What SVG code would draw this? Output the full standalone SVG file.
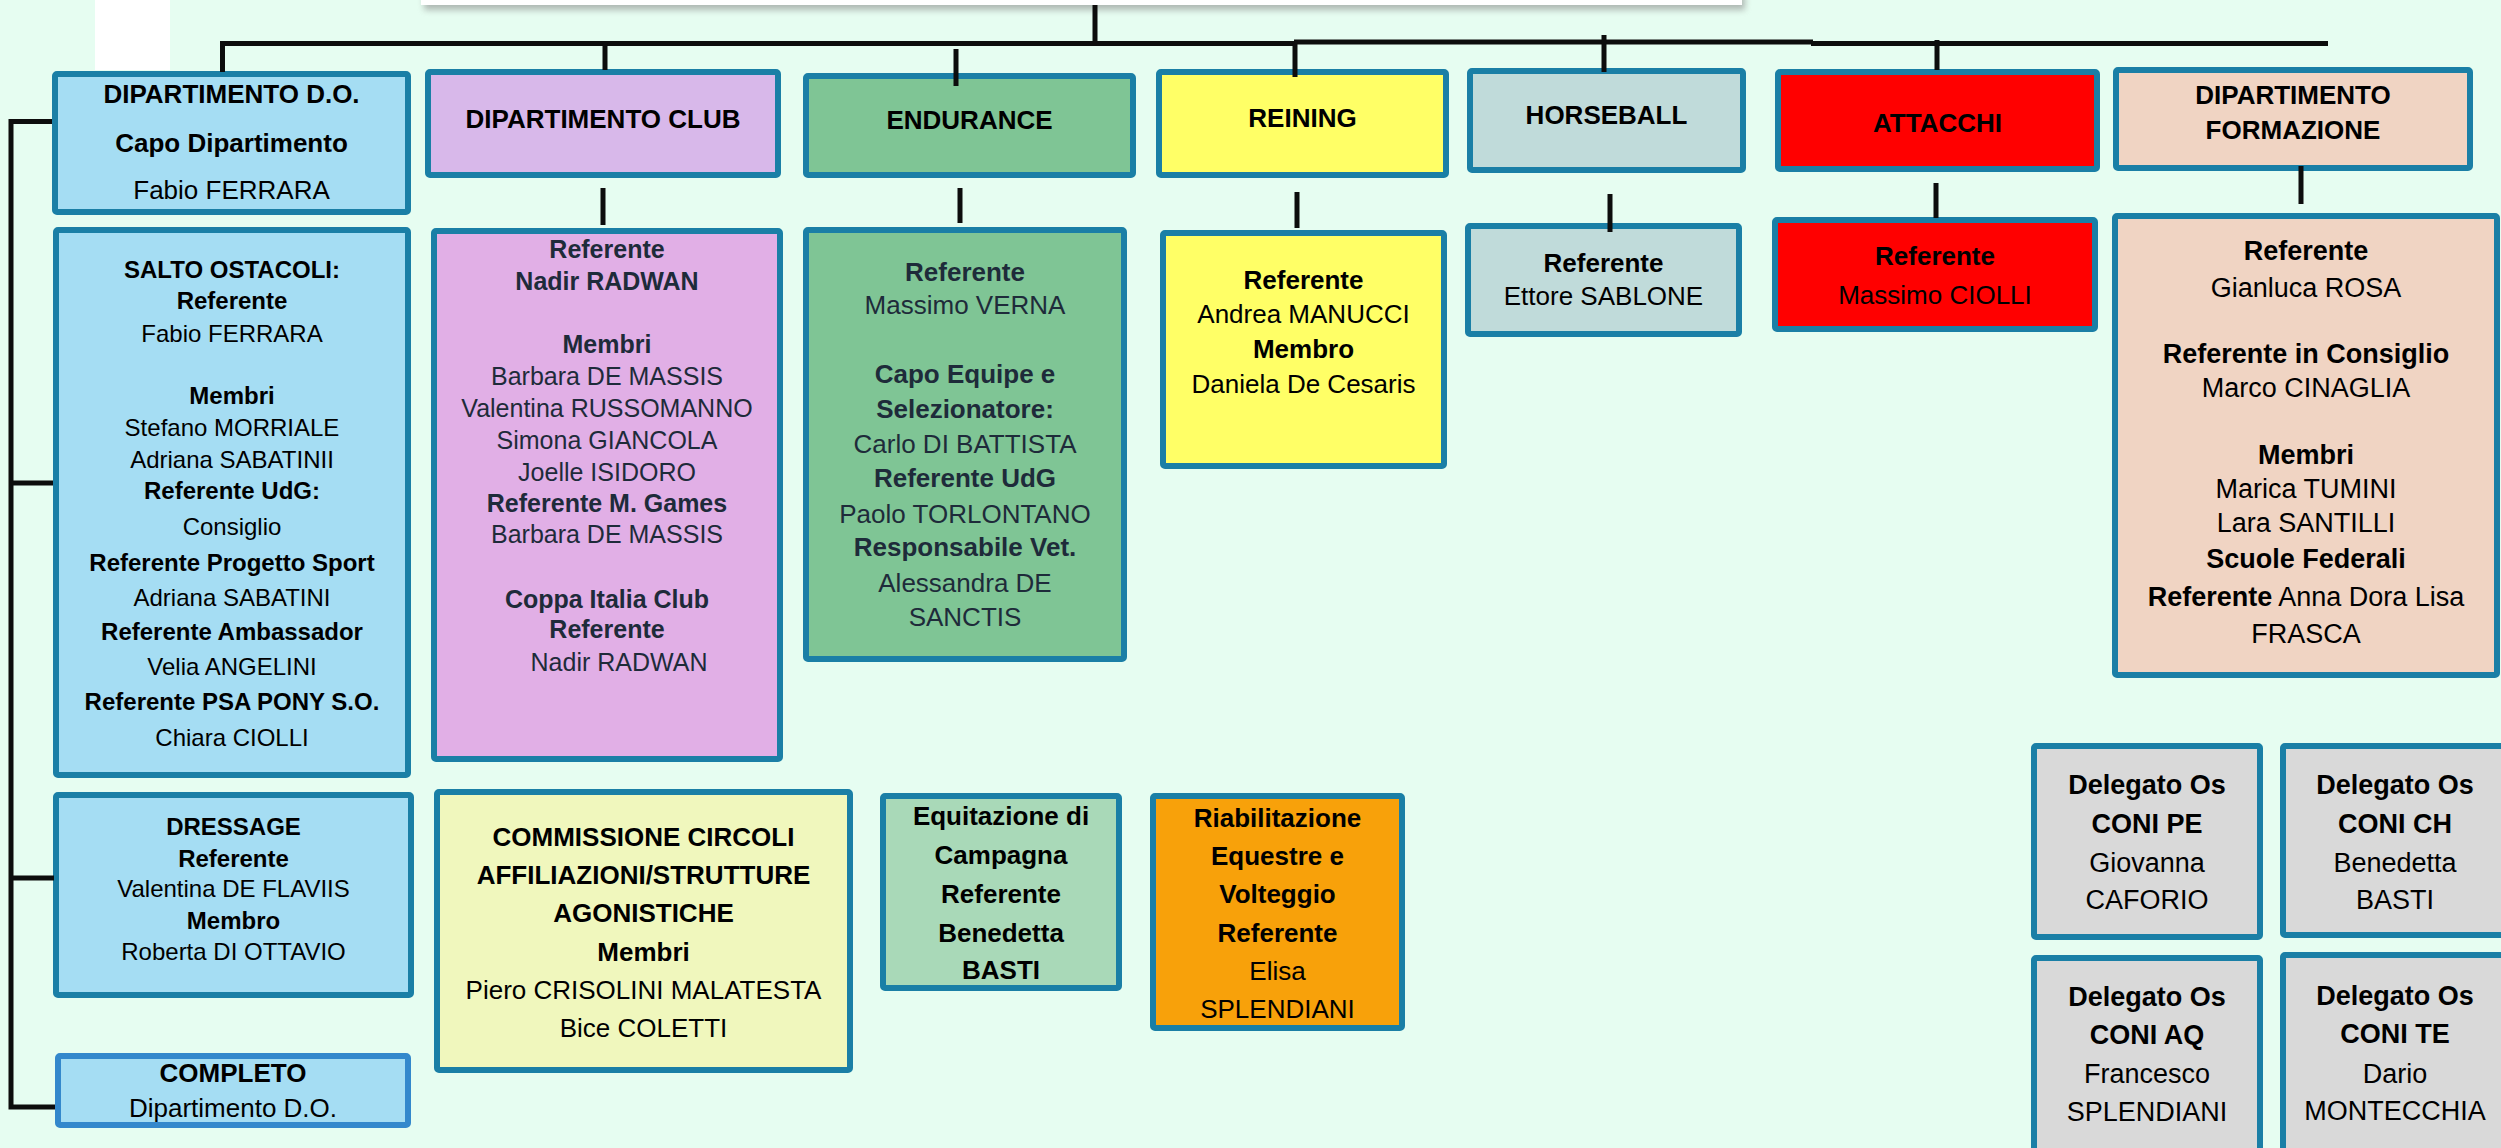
<svg xmlns="http://www.w3.org/2000/svg" width="2501" height="1148" viewBox="0 0 2501 1148">
<defs>
<filter id="sh" x="-5%" y="-100%" width="110%" height="400%"><feGaussianBlur stdDeviation="3"/></filter>
</defs>
<style>
.box{stroke:#1a7fa6;stroke-width:6}
.ln{stroke:#0d0d0d;stroke-width:5;fill:none;stroke-linecap:butt}
text{font-family:"Liberation Sans",Arial,sans-serif;text-anchor:middle;fill:#000}
.b{font-weight:bold}
.dk{fill:#1e2b3a}
.f24{font-size:24px}.f25{font-size:25px}.f26{font-size:26px}.f27{font-size:27px}
</style>
<rect x="0" y="0" width="2501" height="1148" fill="#e6fdf1"/>
<rect x="95" y="0" width="75" height="70" fill="#ffffff"/>
<rect x="424" y="-6" width="1321" height="16" fill="#8a8a8a" opacity="0.6" filter="url(#sh)"/>
<rect x="421" y="-10" width="1321" height="15" fill="#ffffff"/>

<g id="dip-do">
<rect class="box" x="55" y="74" width="353" height="138" rx="2" fill="#a5ddf3"/>
<text class="b f26" x="231.5" y="103">DIPARTIMENTO D.O.</text>
<text class="b f26" x="231.5" y="152">Capo Dipartimento</text>
<text class="f26" x="231.5" y="199">Fabio FERRARA</text>
</g>
<g id="salto">
<rect class="box" x="56" y="230" width="352" height="545" rx="2" fill="#a5ddf3"/>
<g class="f24">
<text class="b" x="232" y="278">SALTO OSTACOLI:</text>
<text class="b" x="232" y="309">Referente</text>
<text x="232" y="342">Fabio FERRARA</text>
<text class="b" x="232" y="404">Membri</text>
<text x="232" y="436">Stefano MORRIALE</text>
<text x="232" y="468">Adriana SABATINII</text>
<text class="b" x="232" y="499">Referente UdG:</text>
<text x="232" y="535">Consiglio</text>
<text class="b" x="232" y="571">Referente Progetto Sport</text>
<text x="232" y="606">Adriana SABATINI</text>
<text class="b" x="232" y="640">Referente Ambassador</text>
<text x="232" y="675">Velia ANGELINI</text>
<text class="b" x="232" y="710">Referente PSA PONY S.O.</text>
<text x="232" y="746">Chiara CIOLLI</text>
</g>
</g>
<g id="dressage">
<rect class="box" x="56" y="795" width="355" height="200" rx="2" fill="#a5ddf3"/>
<g class="f24">
<text class="b" x="233.5" y="835">DRESSAGE</text>
<text class="b" x="233.5" y="867">Referente</text>
<text x="233.5" y="897">Valentina DE FLAVIIS</text>
<text class="b" x="233.5" y="929">Membro</text>
<text x="233.5" y="960">Roberta DI OTTAVIO</text>
</g>
</g>
<g id="completo">
<rect x="58" y="1056" width="350" height="69" rx="2" fill="#a5ddf3" stroke="#3388cc" stroke-width="6"/>
<text class="b f26" x="233" y="1082">COMPLETO</text>
<text class="f26" x="233" y="1117">Dipartimento D.O.</text>
</g>

<g id="dip-club">
<rect class="box" x="428" y="72" width="350" height="103" rx="2" fill="#d8b8ea"/>
<text class="b f26" x="603" y="128">DIPARTIMENTO CLUB</text>
</g>
<g id="club-membri">
<rect class="box" x="434" y="231" width="346" height="528" rx="2" fill="#e1afe6"/>
<g class="f25">
<text class="b dk" x="607" y="258">Referente</text>
<text class="b dk" x="607" y="290">Nadir RADWAN</text>
<text class="b dk" x="607" y="353">Membri</text>
<text class="dk" x="607" y="385">Barbara DE MASSIS</text>
<text class="dk" x="607" y="417">Valentina RUSSOMANNO</text>
<text class="dk" x="607" y="449">Simona GIANCOLA</text>
<text class="dk" x="607" y="481">Joelle ISIDORO</text>
<text class="b dk" x="607" y="512">Referente M. Games</text>
<text class="dk" x="607" y="543">Barbara DE MASSIS</text>
<text class="b dk" x="607" y="608">Coppa Italia Club</text>
<text class="b dk" x="607" y="638">Referente</text>
<text class="dk" x="619" y="671">Nadir RADWAN</text>
</g>
</g>
<g id="commissione">
<rect class="box" x="437" y="792" width="413" height="278" rx="2" fill="#f0f7bd"/>
<g class="f26">
<text class="b" x="643.5" y="846">COMMISSIONE CIRCOLI</text>
<text class="b" x="643.5" y="884">AFFILIAZIONI/STRUTTURE</text>
<text class="b" x="643.5" y="922">AGONISTICHE</text>
<text class="b" x="643.5" y="961">Membri</text>
<text x="643.5" y="999">Piero CRISOLINI MALATESTA</text>
<text x="643.5" y="1037">Bice COLETTI</text>
</g>
</g>

<g id="endurance">
<rect class="box" x="806" y="76" width="327" height="99" rx="2" fill="#7fc595"/>
<text class="b f26" x="969.5" y="129">ENDURANCE</text>
</g>
<g id="endurance-membri">
<rect class="box" x="806" y="230" width="318" height="429" rx="2" fill="#7fc595"/>
<g class="f26">
<text class="b dk" x="965" y="281">Referente</text>
<text class="dk" x="965" y="314">Massimo VERNA</text>
<text class="b dk" x="965" y="383">Capo Equipe e</text>
<text class="b dk" x="965" y="418">Selezionatore:</text>
<text class="dk" x="965" y="453">Carlo DI BATTISTA</text>
<text class="b dk" x="965" y="487">Referente UdG</text>
<text class="dk" x="965" y="523">Paolo TORLONTANO</text>
<text class="b dk" x="965" y="556">Responsabile Vet.</text>
<text class="dk" x="965" y="592">Alessandra DE</text>
<text class="dk" x="965" y="626">SANCTIS</text>
</g>
</g>
<g id="equitazione">
<rect class="box" x="883" y="796" width="236" height="192" rx="2" fill="#a9d9b8"/>
<g class="f26">
<text class="b" x="1001" y="825">Equitazione di</text>
<text class="b" x="1001" y="864">Campagna</text>
<text class="b" x="1001" y="903">Referente</text>
<text class="b" x="1001" y="942">Benedetta</text>
<text class="b" x="1001" y="979">BASTI</text>
</g>
</g>

<g id="reining">
<rect class="box" x="1159" y="72" width="287" height="103" rx="2" fill="#ffff66"/>
<text class="b f26" x="1302.5" y="127">REINING</text>
</g>
<g id="reining-membri">
<rect class="box" x="1163" y="233" width="281" height="233" rx="2" fill="#ffff66"/>
<g class="f26">
<text class="b" x="1303.5" y="289">Referente</text>
<text x="1303.5" y="323">Andrea MANUCCI</text>
<text class="b" x="1303.5" y="358">Membro</text>
<text x="1303.5" y="393">Daniela De Cesaris</text>
</g>
</g>
<g id="riabilitazione">
<rect class="box" x="1153" y="796" width="249" height="232" rx="2" fill="#f8a10a"/>
<g class="f26">
<text class="b" x="1277.5" y="827">Riabilitazione</text>
<text class="b" x="1277.5" y="865">Equestre e</text>
<text class="b" x="1277.5" y="903">Volteggio</text>
<text class="b" x="1277.5" y="942">Referente</text>
<text x="1277.5" y="980">Elisa</text>
<text x="1277.5" y="1018">SPLENDIANI</text>
</g>
</g>

<g id="horseball">
<rect class="box" x="1470" y="71" width="273" height="99" rx="2" fill="#c0dbda"/>
<text class="b f26" x="1606.5" y="124">HORSEBALL</text>
</g>
<g id="horseball-membri">
<rect class="box" x="1468" y="226" width="271" height="108" rx="2" fill="#c0dbda"/>
<text class="b f26" x="1603.5" y="272">Referente</text>
<text class="f26" x="1603.5" y="305">Ettore SABLONE</text>
</g>

<g id="attacchi">
<rect class="box" x="1778" y="72" width="319" height="97" rx="2" fill="#ff0000"/>
<text class="b f26" x="1937.5" y="132">ATTACCHI</text>
</g>
<g id="attacchi-membri">
<rect class="box" x="1775" y="220" width="320" height="109" rx="2" fill="#ff0000"/>
<text class="b f26" x="1935" y="265">Referente</text>
<text class="f26" x="1935" y="304">Massimo CIOLLI</text>
</g>

<g id="formazione">
<rect class="box" x="2116" y="70" width="354" height="98" rx="2" fill="#f0d4c3"/>
<text class="b f26" x="2293" y="104">DIPARTIMENTO</text>
<text class="b f26" x="2293" y="139">FORMAZIONE</text>
</g>
<g id="formazione-membri">
<rect class="box" x="2115" y="216" width="382" height="459" rx="2" fill="#f0d4c3"/>
<g class="f27">
<text class="b" x="2306" y="260">Referente</text>
<text x="2306" y="297">Gianluca ROSA</text>
<text class="b" x="2306" y="363">Referente in Consiglio</text>
<text x="2306" y="397">Marco CINAGLIA</text>
<text class="b" x="2306" y="464">Membri</text>
<text x="2306" y="498">Marica TUMINI</text>
<text x="2306" y="532">Lara SANTILLI</text>
<text class="b" x="2306" y="568">Scuole Federali</text>
<text x="2306" y="606"><tspan font-weight="bold">Referente</tspan> Anna Dora Lisa</text>
<text x="2306" y="643">FRASCA</text>
</g>
</g>

<g id="coni-pe">
<rect class="box" x="2034" y="746" width="226" height="191" rx="2" fill="#d9d9d9"/>
<g class="f27">
<text class="b" x="2147" y="794">Delegato Os</text>
<text class="b" x="2147" y="833">CONI PE</text>
<text x="2147" y="872">Giovanna</text>
<text x="2147" y="909">CAFORIO</text>
</g>
</g>
<g id="coni-ch">
<rect class="box" x="2283" y="746" width="224" height="189" rx="2" fill="#d9d9d9"/>
<g class="f27">
<text class="b" x="2395" y="794">Delegato Os</text>
<text class="b" x="2395" y="833">CONI CH</text>
<text x="2395" y="872">Benedetta</text>
<text x="2395" y="909">BASTI</text>
</g>
</g>
<g id="coni-aq">
<rect class="box" x="2034" y="958" width="226" height="210" rx="2" fill="#d9d9d9"/>
<g class="f27">
<text class="b" x="2147" y="1006">Delegato Os</text>
<text class="b" x="2147" y="1044">CONI AQ</text>
<text x="2147" y="1083">Francesco</text>
<text x="2147" y="1121">SPLENDIANI</text>
</g>
</g>
<g id="coni-te">
<rect class="box" x="2283" y="955" width="224" height="213" rx="2" fill="#d9d9d9"/>
<g class="f27">
<text class="b" x="2395" y="1005">Delegato Os</text>
<text class="b" x="2395" y="1043">CONI TE</text>
<text x="2395" y="1083">Dario</text>
<text x="2395" y="1120">MONTECCHIA</text>
</g>
</g>

<g id="connectors">
<path class="ln" d="M1095,5 V43.5"/>
<path class="ln" d="M222.5,72 V43.5 H1297 M1294,42 H1813 M1811,43.5 H2328"/>
<path class="ln" d="M605,43 V70"/>
<path class="ln" d="M956,49 V86"/>
<path class="ln" d="M1295,42 V77"/>
<path class="ln" d="M1604,35 V72"/>
<path class="ln" d="M1937,40 V70"/>
<path class="ln" d="M603,188 V225"/>
<path class="ln" d="M960,188 V223"/>
<path class="ln" d="M1297,192 V228"/>
<path class="ln" d="M1610,194 V232"/>
<path class="ln" d="M1936,183 V218"/>
<path class="ln" d="M2301,166 V204"/>
<path class="ln" d="M52,121.5 H11 V1107 H55"/>
<path class="ln" d="M11,483 H53"/>
<path class="ln" d="M13,878 H54"/>
</g>
</svg>
